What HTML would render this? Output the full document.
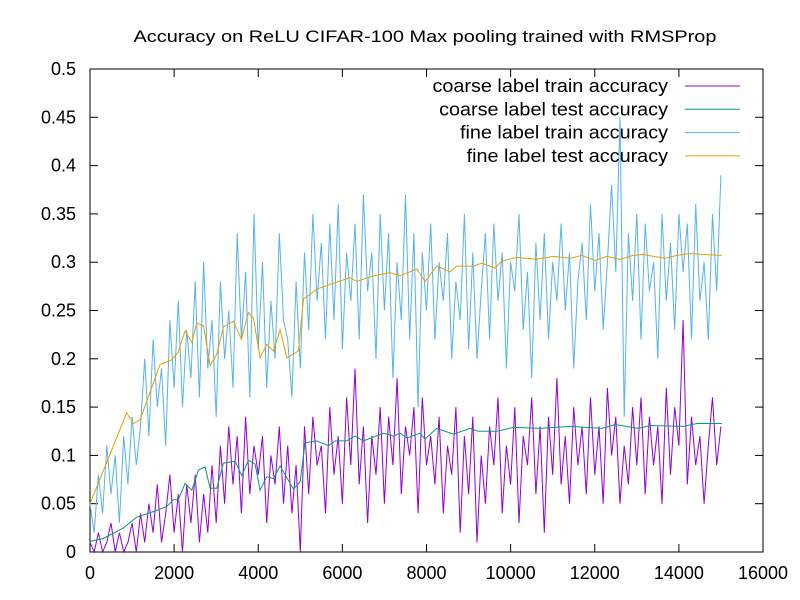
<!DOCTYPE html>
<html><head><meta charset="utf-8"><style>
body{margin:0;background:#fff}
svg{display:block;font-family:"Liberation Sans",sans-serif}
</style></head><body>
<svg id="chart" width="800" height="600" xmlns="http://www.w3.org/2000/svg">
<rect width="800" height="600" fill="#fff"/>
<text x="425" y="42" font-size="17" text-anchor="middle" textLength="583" lengthAdjust="spacingAndGlyphs">Accuracy on ReLU CIFAR-100 Max pooling trained with RMSProp</text>
<g id="axes"></g>
<g id="series"></g>
<g id="legend"></g>
</svg>
<script>
const xTicks=[0,2000,4000,6000,8000,10000,12000,14000,16000];
const yTicks=[0,0.05,0.1,0.15,0.2,0.25,0.3,0.35,0.4,0.45,0.5];
const trainStep=100;
const fineTrain=[0.05,0.02,0.08,0.04,0.11,0.06,0.10,0.03,0.12,0.07,0.14,
0.09,0.13,0.20,0.12,0.22,0.15,0.19,0.11,0.24,0.17,
0.26,0.15,0.23,0.18,0.28,0.16,0.30,0.19,0.24,0.14,
0.28,0.20,0.25,0.17,0.33,0.22,0.29,0.16,0.35,0.21,
0.30,0.17,0.26,0.20,0.33,0.24,0.22,0.16,0.28,0.19,
0.31,0.23,0.35,0.26,0.32,0.22,0.34,0.24,0.36,0.21,
0.31,0.26,0.34,0.22,0.37,0.27,0.31,0.20,0.35,0.25,
0.33,0.18,0.30,0.24,0.37,0.22,0.33,0.15,0.31,0.25,
0.34,0.22,0.30,0.26,0.33,0.20,0.28,0.24,0.35,0.21,
0.31,0.20,0.27,0.33,0.22,0.34,0.26,0.31,0.19,0.30,
0.27,0.35,0.23,0.29,0.18,0.32,0.24,0.33,0.22,0.30,
0.26,0.34,0.25,0.31,0.19,0.28,0.32,0.24,0.36,0.27,
0.33,0.23,0.30,0.38,0.29,0.45,0.14,0.33,0.26,0.35,
0.22,0.34,0.27,0.30,0.20,0.35,0.26,0.32,0.23,0.35,
0.29,0.34,0.22,0.36,0.26,0.30,0.22,0.35,0.27,0.39];
const coarseTrain=[0.01,0.0,0.02,0.0,0.01,0.03,0.0,0.02,0.0,0.01,0.03,
0.0,0.04,0.01,0.05,0.02,0.07,0.01,0.04,0.08,0.02,
0.06,0.0,0.07,0.03,0.08,0.01,0.06,0.02,0.09,0.03,
0.11,0.05,0.13,0.07,0.12,0.04,0.14,0.06,0.11,0.08,
0.12,0.03,0.10,0.07,0.13,0.05,0.11,0.04,0.09,0.0,
0.13,0.06,0.14,0.09,0.11,0.04,0.15,0.08,0.12,0.05,
0.16,0.09,0.19,0.07,0.13,0.03,0.12,0.08,0.15,0.05,
0.14,0.09,0.18,0.06,0.13,0.10,0.15,0.04,0.16,0.09,
0.12,0.07,0.14,0.04,0.11,0.08,0.15,0.02,0.12,0.06,
0.14,0.01,0.10,0.05,0.13,0.09,0.16,0.04,0.11,0.07,
0.15,0.03,0.12,0.09,0.16,0.06,0.13,0.02,0.14,0.08,
0.18,0.07,0.12,0.05,0.15,0.09,0.13,0.06,0.16,0.08,
0.13,0.05,0.17,0.10,0.14,0.05,0.11,0.07,0.15,0.09,
0.16,0.06,0.14,0.09,0.13,0.05,0.17,0.08,0.15,0.11,
0.24,0.07,0.14,0.09,0.12,0.05,0.11,0.16,0.09,0.13];
const fineTestX=[0,872,1031,1190,1665,1943,2100,2260,2420,2540,2700,2855,3014,3172,3410,3600,3767,3886,4045,4200,4360,4520,4680,4955,5075,5390,5710,6185,6344,6740,7137,7375,7770,7964,8242,8560,8718,9114,9312,9630,9788,10146,10622,11018,11414,11692,12009,12286,12603,12920,13158,13396,13674,13952,14269,14586,15022];
const fineTestY=[0.05,0.144,0.133,0.137,0.194,0.199,0.207,0.229,0.217,0.237,0.234,0.193,0.205,0.233,0.239,0.220,0.248,0.242,0.201,0.215,0.208,0.230,0.201,0.208,0.262,0.272,0.277,0.284,0.280,0.286,0.289,0.286,0.293,0.280,0.296,0.290,0.296,0.296,0.299,0.294,0.301,0.305,0.303,0.306,0.304,0.307,0.302,0.306,0.303,0.307,0.308,0.306,0.304,0.307,0.309,0.308,0.307];
const coarseTestX=[0,317,793,1110,1586,1824,1983,2100,2260,2420,2580,2736,2855,3014,3172,3450,3608,3767,3925,4045,4200,4360,4520,4838,4997,5115,5390,5670,5830,6100,6300,6500,6978,7216,7375,7533,7845,7964,8242,8639,9035,9233,9670,10067,10700,11414,12167,12484,13039,13316,14110,14428,15022];
const coarseTestY=[0.011,0.014,0.025,0.036,0.043,0.047,0.054,0.054,0.071,0.064,0.085,0.088,0.066,0.066,0.092,0.094,0.079,0.095,0.091,0.064,0.078,0.076,0.089,0.065,0.073,0.113,0.115,0.110,0.115,0.115,0.120,0.115,0.123,0.120,0.123,0.118,0.123,0.117,0.128,0.122,0.128,0.125,0.125,0.129,0.128,0.130,0.128,0.132,0.128,0.131,0.130,0.133,0.133];

const L=90,R=763,T=69,B=552;
const sx=v=>L+(v-0)/(16000)*(R-L);
const sy=v=>B-(v/0.5)*(B-T);
const NS='http://www.w3.org/2000/svg';
function mk(tag,attrs,parent){const e=document.createElementNS(NS,tag);for(const k in attrs)e.setAttribute(k,attrs[k]);parent.appendChild(e);return e;}
const axes=document.getElementById('axes');
const frame=mk('rect',{x:L,y:T,width:R-L,height:B-T,fill:'none',stroke:'#000','stroke-width':1},axes);


xTicks.forEach(t=>{
  const x=sx(t);
  const l1=mk('line',{x1:x,x2:x,y1:B,y2:B-8,stroke:'#000'},axes);
  
  
  const l2=mk('line',{x1:x,x2:x,y1:T,y2:T+8,stroke:'#000'},axes);
  
  
  const tx=mk('text',{x:x,y:B+27,'font-size':18,'text-anchor':'middle'},axes);
  tx.textContent=String(t);
  
  
});
yTicks.forEach(t=>{
  const y=sy(t);
  const l1=mk('line',{x1:L,x2:L+8,y1:y,y2:y,stroke:'#000'},axes);
  
  
  const l2=mk('line',{x1:R,x2:R-8,y1:y,y2:y,stroke:'#000'},axes);
  
  
  const tx=mk('text',{x:L-14,y:y+6,'font-size':18,'text-anchor':'end'},axes);
  tx.textContent=String(t);
  
  
});
const series=document.getElementById('series');
function line(xs,ys,color,name){
  const d=xs.map((x,i)=>(i?'L':'M')+sx(x).toFixed(1)+','+sy(ys[i]).toFixed(1)).join('');
  const p=mk('path',{d:d,fill:'none',stroke:color,'stroke-width':1},series);
  
  
}
const trainX=fineTrain.map((_,i)=>i*trainStep);
line(trainX,fineTrain,'#56b4e9','fine-train-line');
line(trainX,coarseTrain,'#9400d3','coarse-train-line');
line(coarseTestX,coarseTestY,'#009e73','coarse-test-line');
line(fineTestX,fineTestY,'#e69f00','fine-test-line');
const legend=document.getElementById('legend');
const items=[['coarse label train accuracy','#9400d3'],['coarse label test accuracy','#009e73'],['fine label train accuracy','#56b4e9'],['fine label test accuracy','#e69f00']];
items.forEach((it,i)=>{
  const y=86+i*23.3;
  const tx=mk('text',{x:668,y:y+6,'font-size':18,'text-anchor':'end'},legend);
  tx.textContent=it[0];
  
  
  const w=tx.getComputedTextLength();
  tx.setAttribute('textLength',(w*1.1).toFixed(1));
  tx.setAttribute('lengthAdjust','spacingAndGlyphs');
  const l=mk('line',{x1:685,x2:740,y1:y,y2:y,stroke:it[1]},legend);
  
  
});
</script>
</body></html>
